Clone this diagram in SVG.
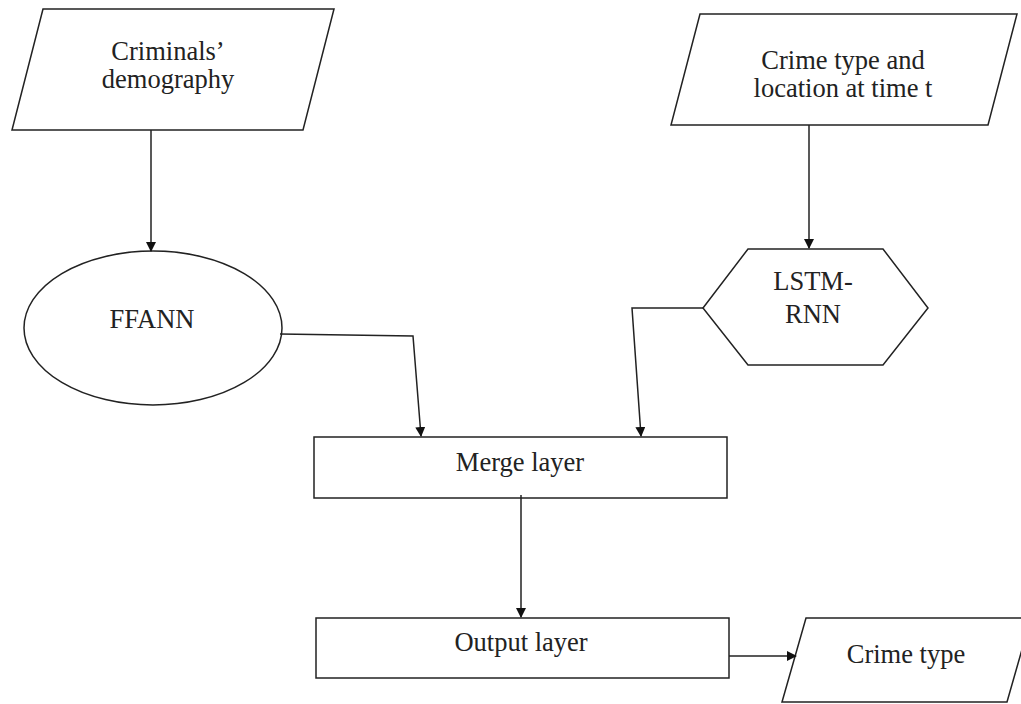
<svg xmlns="http://www.w3.org/2000/svg" width="1021" height="704" viewBox="0 0 1021 704">
  <style>
    .shape { fill: #ffffff; stroke: #222222; stroke-width: 1.5; }
    .edge { fill: none; stroke: #222222; stroke-width: 1.5; }
    .label { font-family: 'Liberation Serif', 'DejaVu Serif', 'Times New Roman', serif; font-size: 26.5px; fill: #222222; text-anchor: middle; }
  </style>
  <defs>
    <marker id="arrow" markerWidth="10" markerHeight="10" refX="9" refY="5" orient="auto" markerUnits="userSpaceOnUse">
      <path d="M0,0 L10,5 L0,10 Z" fill="#111111"/>
    </marker>
  </defs>
  <rect width="1021" height="704" fill="#ffffff"/>

  <g id="demography">
    <polygon class="shape" points="43,9 334,9 303,130 12,130"/>
    <text class="label" x="168" y="60">Criminals’</text>
    <text class="label" x="168" y="88">demography</text>
  </g>

  <g id="crime-location">
    <polygon class="shape" points="700,14 1017,14 988,125 671,125"/>
    <text class="label" x="843" y="69">Crime type and</text>
    <text class="label" x="843" y="97">location at time t</text>
  </g>

  <g id="ffann">
    <ellipse class="shape" cx="153" cy="328" rx="129" ry="77"/>
    <text class="label" x="152" y="328">FFANN</text>
  </g>

  <g id="lstm-rnn">
    <polygon class="shape" points="703,308 748,249 883,249 928,308 883,365 748,365"/>
    <text class="label" x="813" y="290">LSTM-</text>
    <text class="label" x="813" y="323">RNN</text>
  </g>

  <g id="merge-layer">
    <rect class="shape" x="314" y="437" width="413" height="61"/>
    <text class="label" x="520" y="471">Merge layer</text>
  </g>

  <g id="output-layer">
    <rect class="shape" x="316" y="618" width="413" height="60"/>
    <text class="label" x="521" y="651">Output layer</text>
  </g>

  <g id="crime-type">
    <polygon class="shape" points="806,618 1031,618 1007,702 782,702"/>
    <text class="label" x="906" y="663">Crime type</text>
  </g>

  <g id="connectors">
    <path class="edge" d="M151,130 L151,251" marker-end="url(#arrow)"/>
    <path class="edge" d="M809,125 L809,248" marker-end="url(#arrow)"/>
    <path class="edge" d="M280,334 L413,336 L421,436" marker-end="url(#arrow)"/>
    <path class="edge" d="M703,308 L632,308 L641,436" marker-end="url(#arrow)"/>
    <path class="edge" d="M521,495 L521,617" marker-end="url(#arrow)"/>
    <path class="edge" d="M729,656 L796,656" marker-end="url(#arrow)"/>
  </g>
</svg>
